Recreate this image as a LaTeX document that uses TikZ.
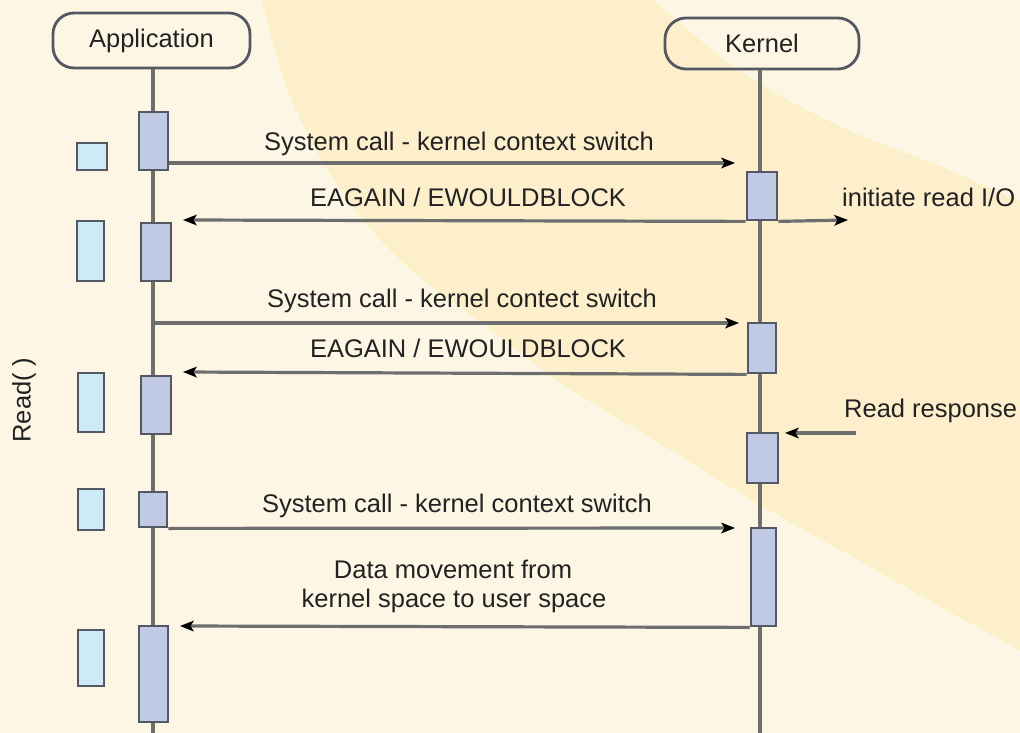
\documentclass[tikz,border=0pt]{standalone}
\usepackage{fontspec}
\setmainfont{Liberation Sans}
\usetikzlibrary{arrows.meta}

\definecolor{bgcream}{HTML}{FDF6E5}
\definecolor{bandtan}{HTML}{FEEFCC}
\definecolor{bandedge}{HTML}{F9F2C4}
\definecolor{lifegray}{HTML}{6E6E6E}
\definecolor{boxedge}{HTML}{545862}
\definecolor{actfill}{HTML}{C0CAE4}
\definecolor{notefill}{HTML}{CDEAF6}
\definecolor{txt}{HTML}{222222}

% box given by its two corners: name, x1, y1, x2, y2, style
\newcommand\cornerbox[6]{%
  \node[#6, minimum width={(#4-#2)*1pt}, minimum height={(#5-#3)*1pt}]
    (#1) at ({(#2+#4)/2},{(#3+#5)/2}) {};}

\begin{document}
\begin{tikzpicture}[x=1pt, y=-1pt,
  font=\fontsize{25.5}{30}\selectfont,
  actor/.style={draw=boxedge, line width=2.8pt, rounded corners=21pt,
    inner sep=0pt, text=txt},
  lifeline/.style={draw=lifegray, line width=3.2pt},
  actbox/.style={draw=boxedge, line width=2.8pt, fill=actfill, inner sep=0pt},
  notebox/.style={draw=boxedge, line width=2.8pt, fill=notefill, inner sep=0pt},
  msg/.style={draw=lifegray, line width=3.2pt,
    -{Stealth[length=14pt, width=11pt, inset=3.5pt, color=black, line width=0pt]}},
  lbl/.style={anchor=base, text=txt, inner sep=0pt},
]

% page background and decorative band
\useasboundingbox (0,0) rectangle (1020,733);
\clip (0,0) rectangle (1020,733);
\fill[bgcream] (0,0) rectangle (1020,733);
\fill[bandtan] plot[smooth, tension=0.6] coordinates {(262,-4) (290,93) (340,187)
    (404,262) (489,327) (563,383) (663,444) (762,505) (862,561) (961,617) (1026,652)}
  -- plot[smooth, tension=0.6] coordinates {(1026,205) (937,166) (837,126) (737,70) (648,-4)}
  -- cycle;
\draw[bandedge, line width=2pt] plot[smooth, tension=0.6] coordinates {(262,-4) (290,93)
    (340,187) (404,262) (489,327) (563,383) (663,444) (762,505) (862,561) (961,617) (1026,652)};
\draw[bandedge, line width=1.5pt] plot[smooth, tension=0.6] coordinates {(1026,205)
    (937,166) (837,126) (737,70) (648,-4)};

% participants
\node[actor, minimum width=197pt, minimum height=55pt] (app) at (151.5,40.5) {Application};
\node[actor, minimum width=194pt, minimum height=51pt] (kern) at (762,43.5) {Kernel};

% lifelines
\coordinate (append) at (153,740);
\coordinate (kernend) at (760,740);
\draw[lifeline] (app.south -| append) -- (append);
\draw[lifeline] (kern.south -| kernend) -- (kernend);

% application activations
\cornerbox{a1}{139}{112}{168}{170}{actbox}
\cornerbox{a2}{141}{223}{171}{281}{actbox}
\cornerbox{a3}{141}{376}{171}{434}{actbox}
\cornerbox{a4}{139}{492}{167}{527}{actbox}
\cornerbox{a5}{139}{626}{168}{722}{actbox}

% read() markers
\cornerbox{n1}{77}{143}{107}{170}{notebox}
\cornerbox{n2}{77}{221}{104}{281}{notebox}
\cornerbox{n3}{78}{373}{104}{432}{notebox}
\cornerbox{n4}{78}{489}{104}{530}{notebox}
\cornerbox{n5}{78}{630}{104}{686}{notebox}

% kernel activations
\cornerbox{k1}{747}{172}{777}{220}{actbox}
\cornerbox{k2}{748}{323}{776}{373}{actbox}
\cornerbox{k3}{747}{433}{778}{483}{actbox}
\cornerbox{k4}{751}{528}{776}{626}{actbox}

\node[rotate=90, text=txt, inner sep=0pt] (readlbl) at (24,400) {Read( )};

% message end points
\coordinate (m1end) at (735,163);
\coordinate (r1end) at (183,220);
\coordinate (ioend) at (848,220);
\coordinate (m2end) at (739,323);
\coordinate (r2end) at (183,372);
\coordinate (rrstart) at (856,433);
\coordinate (rrend) at (785,433);
\coordinate (m3end) at (735,528);
\coordinate (r4end) at (180,626);

% messages
\draw[msg] (a1.east |- m1end) -- (m1end);
\draw[msg] (k1.south west) -- (r1end);
\draw[msg] (k1.south east) -- (ioend);
\draw[msg] (app.south |- m2end) -- (m2end);
\draw[msg] (k2.south west) -- (r2end);
\draw[msg] (rrstart) -- (rrend);
\draw[msg] (a4.south east) -- (m3end);
\draw[msg] (k4.south west) -- (r4end);

% message labels
\node[lbl] (t1) at (459,150) {System call - kernel context switch};
\node[lbl] (t2) at (468,206) {EAGAIN / EWOULDBLOCK};
\node[lbl, anchor=base west] (t3) at (842,206) {initiate read I/O};
\node[lbl] (t4) at (462,307) {System call - kernel contect switch};
\node[lbl] (t5) at (468,357) {EAGAIN / EWOULDBLOCK};
\node[lbl, anchor=base west] (t6) at (844,417) {Read response};
\node[lbl] (t7) at (457,512) {System call - kernel context switch};
\node[lbl] (t8) at (453,578) {Data movement from};
\node[lbl] (t9) at (454,607) {kernel space to user space};
\end{tikzpicture}
\end{document}
